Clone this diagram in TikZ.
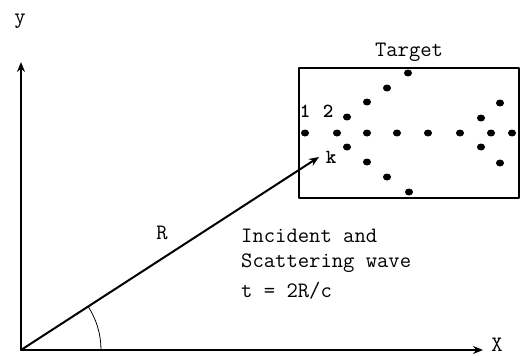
\documentclass[tikz,border=0pt]{standalone}
\usepackage{tikz}
\usetikzlibrary{calc,arrows.meta,shapes.geometric}

\begin{document}
\begin{tikzpicture}[x=1pt, y=-1pt, >={Stealth[length=10pt,width=8pt]}, line join=round, line cap=round,
    font=\ttfamily\fontsize{22}{25}\selectfont,
    dot/.style={ellipse, fill=black, inner sep=0pt, minimum width=8pt, minimum height=7pt},
    numlab/.style={font=\ttfamily\bfseries\fontsize{20}{22}\selectfont, inner sep=0pt},
    wavetxt/.style={anchor=base west, inner sep=0pt}]
    \useasboundingbox (0,0) rectangle (523,356);

    % Axes
    \coordinate (O) at (21,350);
    \coordinate (Xend) at (483,350);
    \coordinate (Yend) at (21,62);
    \draw[->, line width=1.6pt] (O) -- (Xend);
    \draw[->, line width=1.6pt] (O) -- (Yend);
    \node (xlab) at (497,345) {X};
    \node (ylab) at (20,21) {y};

    % Target box
    \node[draw, line width=1.5pt, minimum width=220pt, minimum height=130pt, inner sep=0pt] (target) at (409,133) {};
    \node[above=2pt] (tlab) at (target.north) {Target};

    % Scatterers
    \foreach \px/\py [count=\i] in {305/133, 337/133, 367/133, 397/133, 428/133, 460/133, 491/133, 512/133,
        347/117, 367/102, 387/88, 408/73, 347/147, 367/162, 387/177, 409/192,
        481/118, 500/103, 481/147, 500/163}
        \node[dot] (s\i) at (\px,\py) {};
    \node[numlab] (n1) at (305,111) {1};
    \node[numlab] (n2) at (328,111) {2};
    \node[numlab] (nk) at (331,157) {k};

    % Range vector
    \coordinate (K) at (319,157);
    \draw[->, line width=2pt] (O) -- (K);
    \node (rlab) at (162,233) {R};
    \draw[line width=0.8pt] (O) ++(80,0) arc[start angle=0, end angle=-33, radius=80];

    % Wave text
    \node[wavetxt] (inc) at (241,242) {Incident and};
    \node[wavetxt] (scat) at (241,267) {Scattering wave};
    \node[wavetxt] (eq) at (241,297) {t = 2R/c};
\end{tikzpicture}
\end{document}
